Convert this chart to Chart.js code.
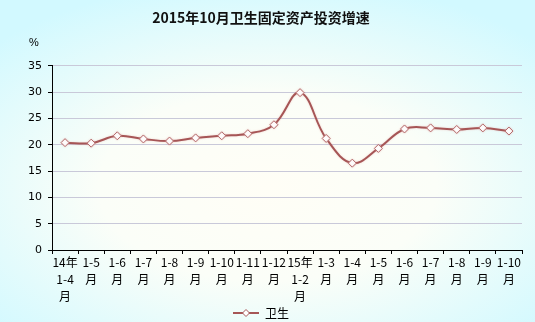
<!DOCTYPE html>
<html>
<head>
<meta charset="utf-8">
<script src="https://cdn.jsdelivr.net/npm/chart.js@4"></script>
<style>
    html, body { margin: 0; padding: 0; }
    body {
        width: 535px;
        height: 322px;
        overflow: hidden;
        background: radial-gradient(ellipse 70% 65% at 50% 58%, #fffef6 0%, #fbfef8 45%, #d2f9ff 100%);
    }
    #wrap { position: relative; width: 535px; height: 322px; }
</style>
</head>
<body>
<div id="wrap"><canvas id="investChart" width="535" height="322"></canvas></div>
<script>
// categories (multi-line labels as in the source)
const months = [
    ['14年', '1-4', '月'], ['1-5', '月'], ['1-6', '月'], ['1-7', '月'], ['1-8', '月'],
    ['1-9', '月'], ['1-10', '月'], ['1-11', '月'], ['1-12', '月'], ['15年', '1-2', '月'],
    ['1-3', '月'], ['1-4', '月'], ['1-5', '月'], ['1-6', '月'], ['1-7', '月'],
    ['1-8', '月'], ['1-9', '月'], ['1-10', '月']
];
// growth rate, %
const healthGrowth = [20.4, 20.3, 21.7, 21.1, 20.7, 21.3, 21.7, 22.1, 23.8, 29.9,
    21.2, 16.5, 19.3, 23.0, 23.2, 22.9, 23.2, 22.6];
const seriesName = '卫生';
const chartTitle = '2015年10月卫生固定资产投资增速';
const yUnit = '%';

const lineColor = '#a65656';

// legend swatch: line with a diamond in the middle
function legendSwatch() {
    const c = document.createElement('canvas');
    c.width = 26;
    c.height = 10;
    const g = c.getContext('2d');
    g.strokeStyle = lineColor;
    g.lineWidth = 2;
    g.beginPath();
    g.moveTo(0, 5);
    g.lineTo(26, 5);
    g.stroke();
    g.fillStyle = '#fff';
    g.lineWidth = 1;
    g.beginPath();
    g.moveTo(13, 1.5);
    g.lineTo(16.5, 5);
    g.lineTo(13, 8.5);
    g.lineTo(9.5, 5);
    g.closePath();
    g.fill();
    g.stroke();
    return c;
}
const swatch = legendSwatch();

// the "%" unit over the y axis
const unitLabel = {
    id: 'unitLabel',
    afterDraw(chart) {
        const ctx = chart.ctx;
        ctx.save();
        ctx.font = '11px "Liberation Sans", Arial, sans-serif';
        ctx.fillStyle = '#000';
        ctx.textAlign = 'center';
        ctx.textBaseline = 'middle';
        ctx.fillText(yUnit, 34, 43);
        ctx.restore();
    }
};

// soft halo around the line
const lineGlow = {
    id: 'lineGlow',
    beforeDatasetDraw(chart) {
        chart.ctx.save();
        chart.ctx.shadowColor = 'rgba(225,150,150,0.45)';
        chart.ctx.shadowBlur = 2;
    },
    afterDatasetDraw(chart) {
        chart.ctx.restore();
    }
};

const chart = new Chart(document.getElementById('investChart').getContext('2d'), {
    type: 'line',
    data: {
        labels: months,
        datasets: [{
            label: seriesName,
            data: healthGrowth,
            borderColor: lineColor,
            borderWidth: 2,
            tension: 0.4,
            pointStyle: 'rectRot',
            pointRadius: 4,
            pointBackgroundColor: '#fff',
            pointBorderColor: '#b26a6a',
            pointBorderWidth: 1,
            fill: false
        }]
    },
    options: {
        responsive: false,
        animation: false,
        devicePixelRatio: 1,
        layout: { padding: { left: 0, right: 13, top: 0, bottom: -7 } },
        plugins: {
            title: {
                display: true,
                text: chartTitle,
                color: '#111',
                font: { family: '"Noto Sans CJK SC", sans-serif', size: 14, weight: 'bold' },
                padding: { top: 9, bottom: 40 }
            },
            legend: {
                position: 'bottom',
                labels: {
                    usePointStyle: true,
                    pointStyleWidth: 26,
                    color: '#000',
                    padding: 1,
                    font: { family: '"Noto Sans CJK SC", sans-serif', size: 12 },
                    generateLabels(ch) {
                        return [{
                            text: seriesName,
                            pointStyle: swatch,
                            fillStyle: '#fff',
                            strokeStyle: lineColor,
                            lineWidth: 0,
                            datasetIndex: 0,
                            fontColor: '#000'
                        }];
                    }
                }
            },
            tooltip: { enabled: false }
        },
        scales: {
            x: {
                offset: true,
                grid: {
                    offset: true,
                    drawOnChartArea: false,
                    drawTicks: true,
                    tickLength: 4,
                    tickColor: '#000'
                },
                border: { color: '#000', width: 1 },
                ticks: {
                    autoSkip: false,
                    maxRotation: 0,
                    minRotation: 0,
                    color: '#000',
                    padding: 0,
                    font: { family: '"Noto Sans CJK SC", sans-serif', size: 12, lineHeight: 1.42 }
                },
                afterFit(scale) { scale.height = 56; }
            },
            y: {
                min: 0,
                max: 35,
                ticks: {
                    stepSize: 5,
                    color: '#000',
                    padding: 6,
                    font: { family: '"DejaVu Sans", sans-serif', size: 11 }
                },
                grid: {
                    color: '#c9c9d9',
                    lineWidth: 1,
                    tickLength: 4,
                    tickColor: '#000'
                },
                border: { color: '#000', width: 1 },
                afterFit(scale) { scale.width = 52; }
            }
        }
    },
    plugins: [unitLabel, lineGlow]
});
</script>
</body>
</html>
